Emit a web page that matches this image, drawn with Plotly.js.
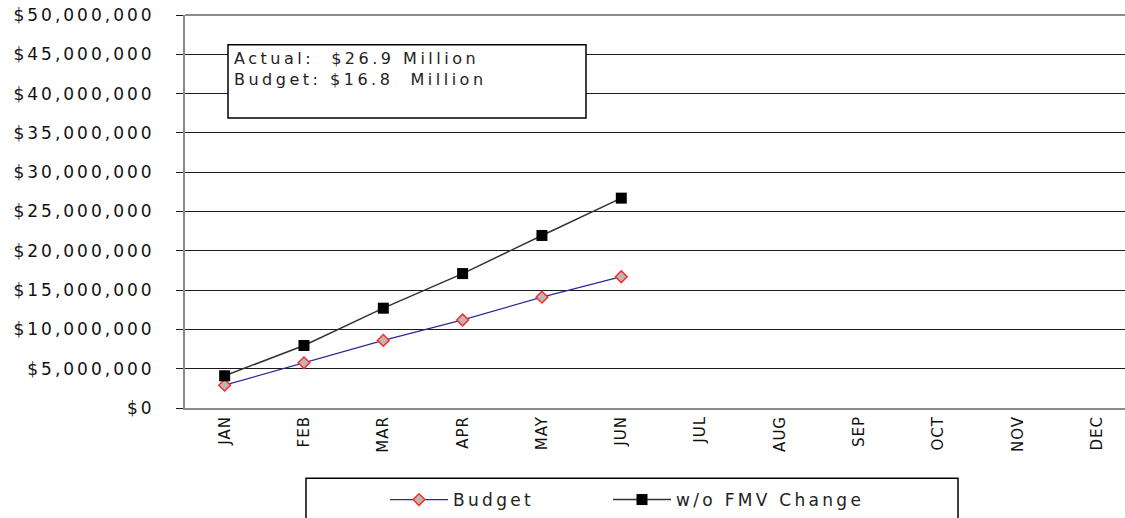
<!DOCTYPE html>
<html>
<head>
<meta charset="utf-8">
<script src="https://cdn.plot.ly/plotly-3.0.1.min.js"></script>
<style>
html,body{margin:0;padding:0;background:#fff;}
#chart{width:1125px;height:518px;}
.ytick text{letter-spacing:3px;}
.xtick text{letter-spacing:1px;}
.legendtext{letter-spacing:3.3px;}
.annotation-text{letter-spacing:3.5px;}
.legend, .legend *{clip-path:none !important;}
</style>
</head>
<body>
<div id="chart"></div>
<script>
const months = ["JAN","FEB","MAR","APR","MAY","JUN","JUL","AUG","SEP","OCT","NOV","DEC"];
const budgetMonths = ["JAN","FEB","MAR","APR","MAY","JUN"];
const budget = [2900000, 5750000, 8600000, 11200000, 14100000, 16700000];
const woFmvChange = [4100000, 7950000, 12700000, 17100000, 21950000, 26700000];
const summaryText = "Actual:\u00a0 $26.9 Million<br>Budget: $16.8\u00a0 Million";

const W = 1125, H = 518;
const L = 185, R = 0, T = 15, B = 106;
const pw = W - L - R, ph = H - T - B;
const px = x => (x - L) / pw;
const py = y => (H - B - y) / ph;

const traces = [
  {
    x: budgetMonths, y: budget, name: "Budget", type: "scatter", mode: "lines+markers",
    line: {color: "#2a2a9c", width: 1.3},
    marker: {symbol: "diamond", size: 9, color: "#b8b8b8", line: {color: "#ff2a2a", width: 1.5}}
  },
  {
    x: budgetMonths, y: woFmvChange, name: "w/o FMV Change", type: "scatter", mode: "lines+markers",
    line: {color: "#333333", width: 1.5},
    marker: {symbol: "square", size: 11, color: "#000000", line: {width: 0}}
  }
];

const layout = {
  width: W, height: H,
  margin: {l: L, r: R, t: T, b: B, pad: 0},
  paper_bgcolor: "#ffffff", plot_bgcolor: "#ffffff",
  font: {family: "DejaVu Sans, sans-serif", color: "#000"},
  showlegend: true,
  legend: {
    orientation: "h", x: px(385), xanchor: "left", y: py(487), yanchor: "top",
    font: {family: "DejaVu Sans, sans-serif", size: 17, color: "#222"},
    bgcolor: "rgba(0,0,0,0)", borderwidth: 0, entrywidth: 150, itemwidth: 58,
    traceorder: "normal"
  },
  xaxis: {
    type: "category", categoryarray: months, categoryorder: "array",
    range: [-0.5, 11.35],
    tickangle: -90, tickfont: {size: 15, family: "DejaVu Sans, sans-serif", color: "#111"},
    showgrid: false, showline: true, linecolor: "#8c8c8c", linewidth: 2,
    ticks: "", zeroline: false, fixedrange: true
  },
  yaxis: {
    range: [0, 50000000], dtick: 5000000, tick0: 0,
    tickprefix: "$", tickformat: ",d",
    tickfont: {size: 17, family: "DejaVu Sans, sans-serif", color: "#111"},
    showgrid: true, gridcolor: "#1a1a1a", gridwidth: 1,
    showline: true, linecolor: "#8c8c8c", linewidth: 2,
    ticks: "outside", ticklen: 7, tickcolor: "#1a1a1a", ticklabelstandoff: 18,
    zeroline: false, fixedrange: true
  },
  shapes: [
    {type: "line", xref: "paper", yref: "paper", x0: 0, x1: 1, y0: 1, y1: 1, line: {color: "#1a1a1a", width: 1.2}},
    {type: "rect", xref: "paper", yref: "paper", x0: px(228), x1: px(586), y0: py(119), y1: py(45),
     fillcolor: "#ffffff", line: {color: "#000", width: 1.5}, layer: "above"},
    {type: "rect", xref: "paper", yref: "paper", x0: px(306), x1: px(958), y0: py(535), y1: py(483),
     fillcolor: "rgba(0,0,0,0)", line: {color: "#000", width: 1.5}, layer: "above"}
  ],
  annotations: [
    {xref: "paper", yref: "paper", x: px(232), y: py(47), xanchor: "left", yanchor: "top",
     align: "left", text: summaryText, showarrow: false,
     font: {family: "DejaVu Sans, sans-serif", size: 16, color: "#222"}}
  ]
};

Plotly.newPlot("chart", traces, layout, {displayModeBar: false, staticPlot: true});
</script>
</body>
</html>
